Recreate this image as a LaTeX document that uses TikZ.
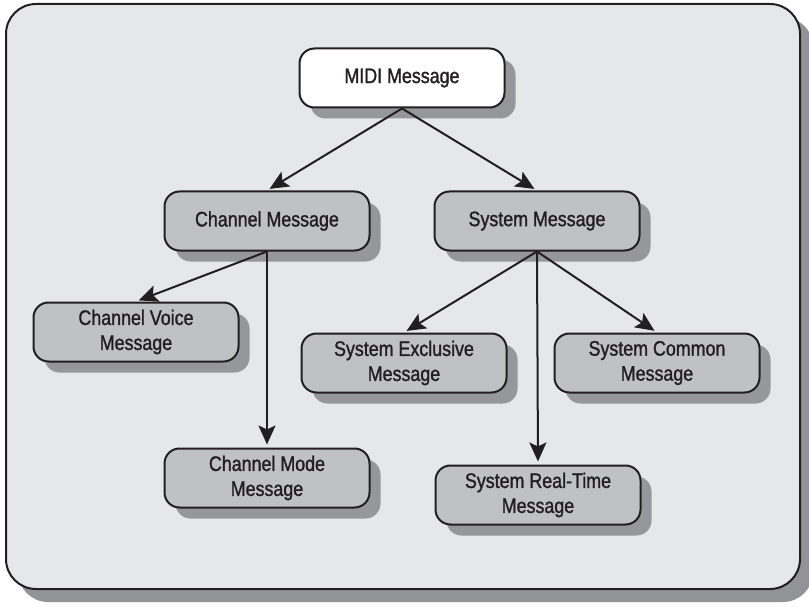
\documentclass[tikz,border=0pt]{standalone}
\usepackage{fontspec}
\setmainfont{Liberation Sans}[FakeStretch=0.85, FakeBold=1.3]
\usetikzlibrary{arrows.meta,shadows}
\definecolor{panel}{RGB}{230,231,232}
\definecolor{panelshadow}{RGB}{146,147,150}
\definecolor{boxfill}{RGB}{192,193,195}
\definecolor{boxshadow}{RGB}{150,151,154}
\definecolor{ink}{RGB}{35,31,32}
\tikzset{
  msg/.style={draw=ink, line width=2pt, rounded corners=15pt, fill=boxfill,
    minimum width=205pt, minimum height=59pt, align=center, text=ink,
    font=\fontsize{21}{25}\selectfont,
    copy shadow={shadow xshift=11pt, shadow yshift=-11pt, fill=boxshadow, draw=none}},
  rootmsg/.style={msg, fill=white},
  link/.style={draw=ink, line width=2pt, -{Stealth[length=19pt, width=17pt, inset=4pt]}, shorten >=3pt}
}
\begin{document}
\begin{tikzpicture}[x=1pt, y=-1pt]
  \useasboundingbox (0,0) rectangle (809,607);
  % background panel with its shadow
  \fill[panelshadow, rounded corners=30pt] (18,17) rectangle (813,602);
  \filldraw[fill=panel, draw=ink, line width=2pt, rounded corners=30pt] (6,4) rectangle (800,589);

  % message types
  \node[rootmsg] (midi) at (402,78) {MIDI Message};
  \node[msg] (chan) at (267,221) {Channel Message};
  \node[msg] (sys) at (537,221) {System Message};
  \node[msg] (voice) at (136,332) {Channel Voice\\Message};
  \node[msg] (excl) at (404,363) {System Exclusive\\Message};
  \node[msg] (common) at (657,363) {System Common\\Message};
  \node[msg] (mode) at (267,478) {Channel Mode\\Message};
  \node[msg] (rt) at (538,495) {System Real-Time\\Message};

  % hierarchy
  \draw[link] (midi.south) -- (chan.north);
  \draw[link] (midi.south) -- (sys.north);
  \draw[link] (chan.south) -- (voice.north);
  \draw[link] (chan.south) -- (mode.north);
  \draw[link] (sys.south) -- (excl.north);
  \draw[link] (sys.south) -- (rt.north);
  \draw[link] (sys.south) -- (common.north);
\end{tikzpicture}
\end{document}
